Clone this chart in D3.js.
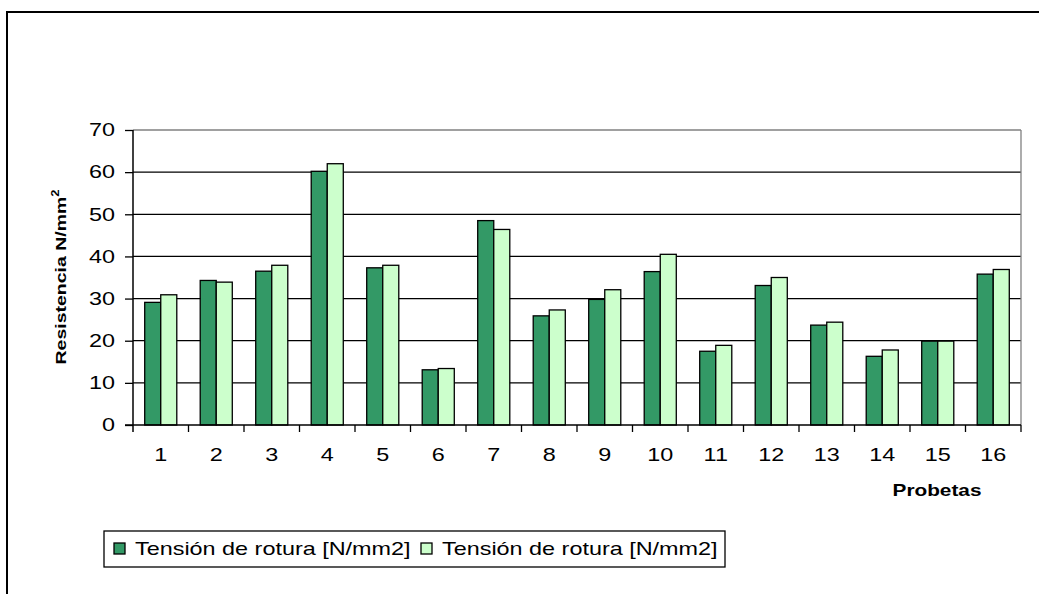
<!DOCTYPE html>
<html lang="es">
<head>
<meta charset="utf-8">
<title>Resistencia por probeta</title>
<style>
  body { margin: 0; background: #fff; }
  svg { display: block; font-family: Arial, "Liberation Sans", sans-serif; }
</style>
</head>
<body>
<div id="chart"></div>
<script src="https://d3js.org/d3.v7.min.js"></script>
<script>
// data
var probetas = ["1","2","3","4","5","6","7","8","9","10","11","12","13","14","15","16"];
var serieNombres = ["Tensión de rotura [N/mm2]", "Tensión de rotura [N/mm2]"];
var serieA = [29.1, 34.3, 36.5, 60.2, 37.3, 13.1, 48.5, 25.9, 29.8, 36.4, 17.5, 33.1, 23.7, 16.3, 19.9, 35.8];
var serieB = [30.9, 33.9, 37.9, 62.0, 37.9, 13.4, 46.4, 27.3, 32.1, 40.5, 18.9, 35.0, 24.4, 17.8, 19.9, 36.9];
var yTicks = [0, 10, 20, 30, 40, 50, 60, 70];
var colores = ["#339966", "#ccffcc"];

var W = 1039, H = 594;
var SX = 1.3; // the text in the picture is drawn wider than normal
var pLeft = 133, pRight = 1021, pTop = 130, pBottom = 425;

var svg = d3.select("#chart").append("svg")
    .attr("width", W)
    .attr("height", H);

// outer frame (only top and left edges are visible)
svg.append("rect")
    .attr("x", 7).attr("y", 12)
    .attr("width", W + 20).attr("height", H + 20)
    .attr("fill", "none")
    .attr("stroke", "#000")
    .attr("stroke-width", 2);

var x0 = d3.scaleBand().domain(probetas).range([pLeft, pRight]);
var x1 = d3.scaleBand().domain([0, 1]).range([0, x0.bandwidth()]).paddingOuter(0.73);
var y = d3.scaleLinear().domain([0, 70]).range([pBottom, pTop]);

// grid lines
svg.append("g")
  .selectAll("line")
  .data(yTicks.filter(function(d) { return d > 0; }))
  .enter().append("line")
    .attr("x1", pLeft).attr("x2", pRight)
    .attr("y1", function(d) { return y(d); })
    .attr("y2", function(d) { return y(d); })
    .attr("stroke", function(d) { return d === 70 ? "#808080" : "#000"; })
    .attr("stroke-width", 1.3);

// right edge of the plot area
svg.append("line")
    .attr("x1", pRight).attr("x2", pRight)
    .attr("y1", y(70)).attr("y2", y(0))
    .attr("stroke", "#808080")
    .attr("stroke-width", 1.3);

// bars
var datos = probetas.map(function(p, i) { return { p: p, v: [serieA[i], serieB[i]] }; });
var grupos = svg.append("g")
  .selectAll("g")
  .data(datos)
  .enter().append("g")
    .attr("transform", function(d) { return "translate(" + x0(d.p) + ",0)"; });

grupos.selectAll("rect")
  .data(function(d) { return d.v.map(function(v, k) { return { k: k, v: v }; }); })
  .enter().append("rect")
    .attr("x", function(d) { return x1(d.k); })
    .attr("y", function(d) { return y(d.v); })
    .attr("width", x1.bandwidth())
    .attr("height", function(d) { return y(0) - y(d.v); })
    .attr("fill", function(d) { return colores[d.k]; })
    .attr("stroke", "#000")
    .attr("stroke-width", 1.3);

// Y axis
var yAxis = svg.append("g")
    .attr("transform", "translate(" + pLeft + ",0)")
    .call(d3.axisLeft(y).tickValues(yTicks).tickSize(8).tickPadding(10));
yAxis.select(".domain").attr("stroke", "#000").attr("stroke-width", 1.5)
    .attr("d", "M0," + y(70) + "V" + (y(0) + 7));
yAxis.selectAll(".tick line").attr("stroke-width", 1.3);
yAxis.selectAll(".tick text")
    .attr("font-size", 18)
    .attr("font-family", "Arial, 'Liberation Sans', sans-serif")
    .attr("fill", "#000")
    .attr("x", -18 / SX)
    .attr("transform", "scale(" + SX + ",1)");

// X axis (labels centred, ticks on category boundaries)
var xAxis = svg.append("g")
    .attr("transform", "translate(0," + pBottom + ")")
    .call(d3.axisBottom(x0).tickSize(0).tickPadding(23));
xAxis.select(".domain").remove();
xAxis.selectAll(".tick text")
    .attr("font-size", 18)
    .attr("font-family", "Arial, 'Liberation Sans', sans-serif")
    .attr("fill", "#000")
    .attr("transform", "scale(" + SX + ",1)")
    .attr("x", 0);
svg.append("line")
    .attr("x1", pLeft - 8).attr("x2", pRight)
    .attr("y1", pBottom).attr("y2", pBottom)
    .attr("stroke", "#000").attr("stroke-width", 1.5);
svg.append("g")
  .selectAll("line")
  .data(probetas.slice(1).map(function(p) { return x0(p); }).concat([pRight]))
  .enter().append("line")
    .attr("x1", function(d) { return d; }).attr("x2", function(d) { return d; })
    .attr("y1", pBottom).attr("y2", pBottom + 7)
    .attr("stroke", "#000").attr("stroke-width", 1.3);

// axis titles
svg.append("g")
    .attr("transform", "translate(937,490) scale(" + SX + ",1)")
  .append("text")
    .attr("text-anchor", "middle")
    .attr("dy", "0.35em")
    .attr("font-size", 16)
    .attr("font-weight", "bold")
    .text("Probetas");

var yt = svg.append("g")
    .attr("transform", "translate(66,277) rotate(-90) scale(" + SX + ",1)")
  .append("text")
    .attr("text-anchor", "middle")
    .attr("font-size", 15)
    .attr("font-weight", "bold");
yt.append("tspan").text("Resistencia N/mm");
yt.append("tspan").attr("font-size", 10).attr("dy", -7).text("2");

// legend
var leg = svg.append("g");
leg.append("rect")
    .attr("x", 104).attr("y", 531)
    .attr("width", 621).attr("height", 36)
    .attr("fill", "#fff")
    .attr("stroke", "#000")
    .attr("stroke-width", 1.3);
var legX = [114, 421];
serieNombres.forEach(function(nombre, k) {
  leg.append("rect")
      .attr("x", legX[k]).attr("y", 543)
      .attr("width", 11).attr("height", 11)
      .attr("fill", colores[k])
      .attr("stroke", "#000")
      .attr("stroke-width", 1.3);
  leg.append("g")
      .attr("transform", "translate(" + (legX[k] + 21) + ",549) scale(" + SX + ",1)")
    .append("text")
      .attr("dy", "0.35em")
      .attr("font-size", 18)
      .text(nombre);
});
</script>
</body>
</html>
